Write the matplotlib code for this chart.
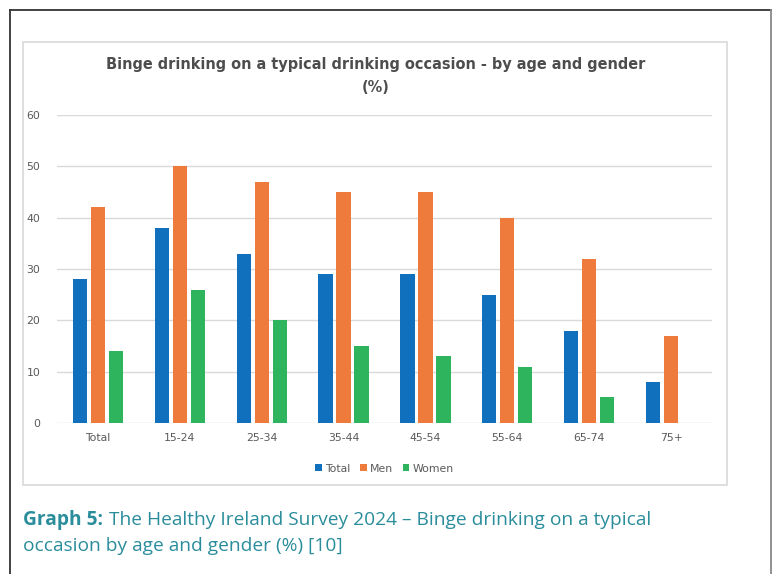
import numpy as np
import matplotlib.pyplot as plt
from matplotlib.patches import Rectangle
from matplotlib.lines import Line2D

# Healthy Ireland Survey 2024 - binge drinking by age and gender (%)
categories = ["Total", "15-24", "25-34", "35-44", "45-54", "55-64", "65-74", "75+"]
total = [28, 38, 33, 29, 29, 25, 18, 8]
men = [42, 50, 47, 45, 45, 40, 32, 17]
women = [14, 26, 20, 15, 13, 11, 5, np.nan]

series = [("Total", total, "#1170bd"),
          ("Men", men, "#ee7a3c"),
          ("Women", women, "#2db45d")]

W, H = 776, 574
fig = plt.figure(figsize=(W / 100, H / 100), dpi=100)
fig.patch.set_facecolor("white")

def fx(px):
    return px / W

def fy(py):
    return 1 - py / H

# page frame (left, top and right edges only)
fig.add_artist(Line2D([fx(10), fx(10)], [0, fy(10)], color="#333333", lw=1.3))
fig.add_artist(Line2D([fx(10), fx(771)], [fy(10), fy(10)], color="#333333", lw=1.3))
fig.add_artist(Line2D([fx(771), fx(771)], [0, fy(10)], color="#888888", lw=1.3))

# chart box
fig.add_artist(Rectangle((fx(23), fy(485)), fx(727) - fx(23), fy(42) - fy(485),
                         transform=fig.transFigure, fill=False,
                         edgecolor="#d9d9d9", lw=1.2))

ax = fig.add_axes([fx(57), fy(423), fx(712) - fx(57), fy(115) - fy(423)])
x = np.arange(len(categories))
width = 0.175
offsets = [-0.22, 0, 0.22]
for (name, vals, color), off in zip(series, offsets):
    ax.bar(x + off, vals, width, color=color, label=name, zorder=3)

ax.set_xlim(-0.5, len(categories) - 0.5)
ax.set_ylim(0, 60)
ax.set_yticks(range(0, 61, 10))
ax.set_xticks(x)
ax.set_xticklabels(categories)
ax.grid(axis="y", color="#d9d9d9", lw=1, zorder=0)
for s in ax.spines.values():
    s.set_visible(False)
ax.tick_params(axis="both", length=0, colors="#595959", labelsize=7.8)
ax.tick_params(axis="x", pad=7)
ax.tick_params(axis="y", pad=12)

title_font = dict(ha="center", va="center", fontsize=11.6, fontweight="bold",
                  color="#4d4d4d", family="DejaVu Sans", fontstretch="condensed")
fig.text(fx(376), fy(65), "Binge drinking on a typical drinking occasion - by age and gender",
         **title_font)
fig.text(fx(376), fy(88), "(%)", **title_font)

leg = ax.legend(loc="upper center", bbox_to_anchor=(0.5, -0.1), ncol=3, frameon=False,
                fontsize=7.8, handlelength=0.6, handleheight=0.6, handletextpad=0.3,
                columnspacing=0.9, labelcolor="#595959")

# caption below the chart, bold label followed by plain text
teal = "#2a8d9b"
cap_font = dict(fontsize=13.8, color=teal, family="Open Sans", va="center", ha="left")
lbl = fig.text(fx(23), fy(520), "Graph 5:", fontweight="bold", **cap_font)
fig.canvas.draw()
bb = lbl.get_window_extent()
fig.text((bb.x1 + 6) / W, fy(520),
         "The Healthy Ireland Survey 2024 \u2013 Binge drinking on a typical", **cap_font)
fig.text(fx(23), fy(546), "occasion by age and gender (%) [10]", **cap_font)

fig.savefig("out.png", dpi=100)
